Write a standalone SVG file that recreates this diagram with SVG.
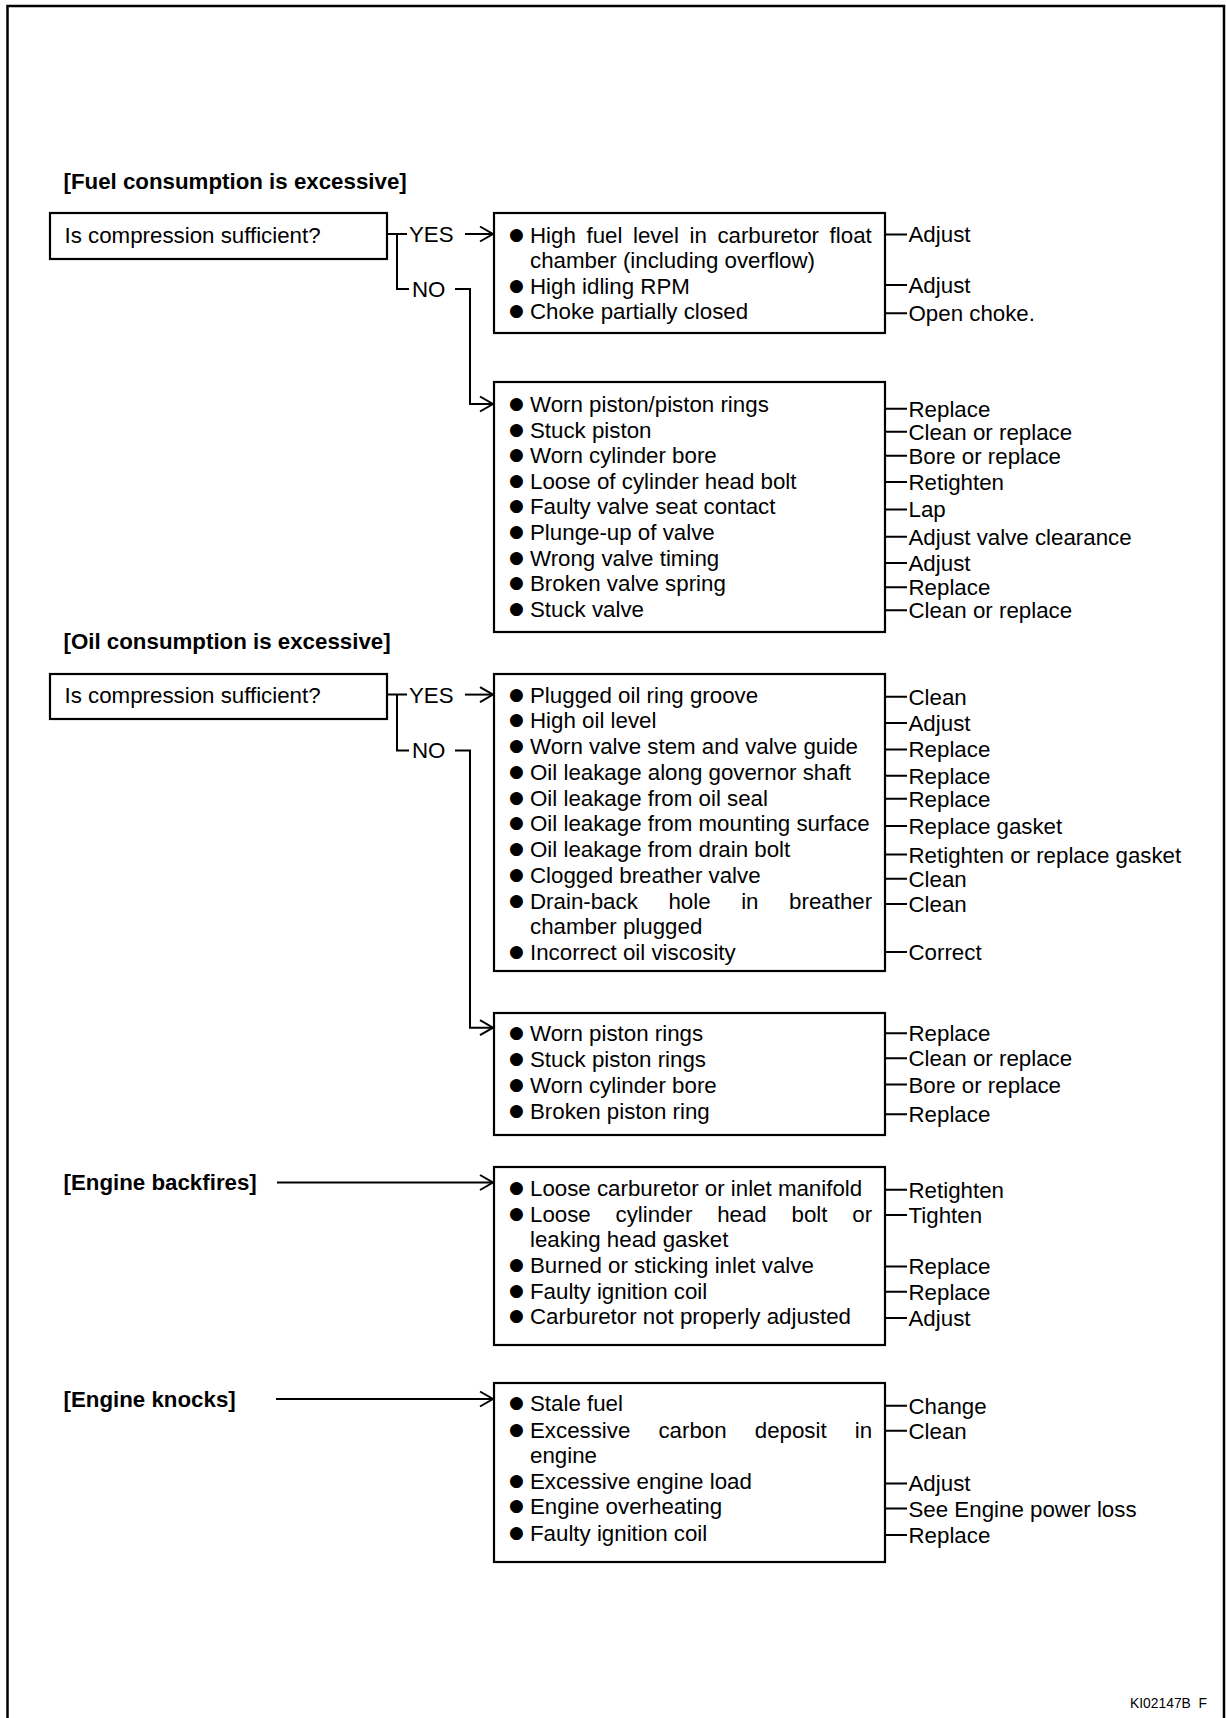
<svg xmlns="http://www.w3.org/2000/svg" width="1226" height="1718" viewBox="0 0 1226 1718">
<style>
text{font-family:"Liberation Sans",Arial,sans-serif;fill:#000}
.t{font-size:22.3px}
.h{font-size:22.3px;font-weight:bold}
.bu{font-family:"DejaVu Sans",sans-serif;font-size:17px;baseline-shift:3px}
.box{fill:#fff;stroke:#000;stroke-width:2.2}
.ln{fill:none;stroke:#000;stroke-width:2}
.fr{fill:none;stroke:#000;stroke-width:2.5}
</style>
<defs>
<marker id="ah" markerUnits="userSpaceOnUse" markerWidth="20" markerHeight="20" refX="15" refY="10" orient="auto">
<path d="M2,2.5 L15,10 L2,17.5" fill="none" stroke="#000" stroke-width="2"/>
</marker>
</defs>
<rect width="1226" height="1718" fill="#fff"/>
<path class="fr" d="M7.5,1718 V6 H1224 V1718"/>

<!-- Section 1 -->
<text class="h" x="63.5" y="189">[Fuel consumption is excessive]</text>
<g id="q1"><rect class="box" x="50" y="213" width="337" height="46"/><text class="t" x="64.5" y="242.5">Is compression sufficient?</text></g>
<g id="fuel-yes">
<rect class="box" x="494" y="213" width="391" height="120"/>
<text class="t"><tspan class="bu" x="509" y="242.5">●</tspan><tspan x="530" y="242.5" word-spacing="4.4">High fuel level in carburetor float</tspan><tspan x="530" y="268">chamber (including overflow)</tspan><tspan class="bu" x="509" y="293.5">●</tspan><tspan x="530" y="293.5">High idling RPM</tspan><tspan class="bu" x="509" y="319">●</tspan><tspan x="530" y="319">Choke partially closed</tspan></text>
<text class="t"><tspan x="908.5" y="242.4">Adjust</tspan><tspan x="908.5" y="292.9">Adjust</tspan><tspan x="908.5" y="321.2">Open choke.</tspan></text>
</g>
<g id="fuel-no">
<rect class="box" x="494" y="382" width="391" height="250"/>
<text class="t"><tspan class="bu" x="509" y="412">●</tspan><tspan x="530" y="412">Worn piston/piston rings</tspan><tspan class="bu" x="509" y="437.6">●</tspan><tspan x="530" y="437.6">Stuck piston</tspan><tspan class="bu" x="509" y="463.2">●</tspan><tspan x="530" y="463.2">Worn cylinder bore</tspan><tspan class="bu" x="509" y="488.8">●</tspan><tspan x="530" y="488.8">Loose of cylinder head bolt</tspan><tspan class="bu" x="509" y="514.4">●</tspan><tspan x="530" y="514.4">Faulty valve seat contact</tspan><tspan class="bu" x="509" y="540">●</tspan><tspan x="530" y="540">Plunge-up of valve</tspan><tspan class="bu" x="509" y="565.6">●</tspan><tspan x="530" y="565.6">Wrong valve timing</tspan><tspan class="bu" x="509" y="591.2">●</tspan><tspan x="530" y="591.2">Broken valve spring</tspan><tspan class="bu" x="509" y="616.8">●</tspan><tspan x="530" y="616.8">Stuck valve</tspan></text>
<text class="t"><tspan x="908.5" y="416.6">Replace</tspan><tspan x="908.5" y="439.6">Clean or replace</tspan><tspan x="908.5" y="463.7">Bore or replace</tspan><tspan x="908.5" y="489.9">Retighten</tspan><tspan x="908.5" y="517.4">Lap</tspan><tspan x="908.5" y="544.7">Adjust valve clearance</tspan><tspan x="908.5" y="571">Adjust</tspan><tspan x="908.5" y="595.1">Replace</tspan><tspan x="908.5" y="618.1">Clean or replace</tspan></text>
</g>

<!-- Section 2 -->
<text class="h" x="63.5" y="649">[Oil consumption is excessive]</text>
<g id="q2"><rect class="box" x="50" y="674" width="337" height="45"/><text class="t" x="64.5" y="702.5">Is compression sufficient?</text></g>
<g id="oil-yes">
<rect class="box" x="494" y="674" width="391" height="297"/>
<text class="t"><tspan class="bu" x="509" y="702.5">●</tspan><tspan x="530" y="702.5">Plugged oil ring groove</tspan><tspan class="bu" x="509" y="728.2">●</tspan><tspan x="530" y="728.2">High oil level</tspan><tspan class="bu" x="509" y="754">●</tspan><tspan x="530" y="754">Worn valve stem and valve guide</tspan><tspan class="bu" x="509" y="779.7">●</tspan><tspan x="530" y="779.7">Oil leakage along governor shaft</tspan><tspan class="bu" x="509" y="805.5">●</tspan><tspan x="530" y="805.5">Oil leakage from oil seal</tspan><tspan class="bu" x="509" y="831.2">●</tspan><tspan x="530" y="831.2">Oil leakage from mounting surface</tspan><tspan class="bu" x="509" y="857">●</tspan><tspan x="530" y="857">Oil leakage from drain bolt</tspan><tspan class="bu" x="509" y="882.7">●</tspan><tspan x="530" y="882.7">Clogged breather valve</tspan><tspan class="bu" x="509" y="908.5">●</tspan><tspan x="530" y="908.5" word-spacing="24.4">Drain-back hole in breather</tspan><tspan x="530" y="934.2">chamber plugged</tspan><tspan class="bu" x="509" y="960">●</tspan><tspan x="530" y="960">Incorrect oil viscosity</tspan></text>
<text class="t"><tspan x="908.5" y="704.7">Clean</tspan><tspan x="908.5" y="731">Adjust</tspan><tspan x="908.5" y="757.3">Replace</tspan><tspan x="908.5" y="783.6">Replace</tspan><tspan x="908.5" y="806.6">Replace</tspan><tspan x="908.5" y="834">Replace gasket</tspan><tspan x="908.5" y="862.5">Retighten or replace gasket</tspan><tspan x="908.5" y="886.6">Clean</tspan><tspan x="908.5" y="911.8">Clean</tspan><tspan x="908.5" y="960">Correct</tspan></text>
</g>
<g id="oil-no">
<rect class="box" x="494" y="1013" width="391" height="122"/>
<text class="t"><tspan class="bu" x="509" y="1041.1">●</tspan><tspan x="530" y="1041.1">Worn piston rings</tspan><tspan class="bu" x="509" y="1067.3">●</tspan><tspan x="530" y="1067.3">Stuck piston rings</tspan><tspan class="bu" x="509" y="1092.5">●</tspan><tspan x="530" y="1092.5">Worn cylinder bore</tspan><tspan class="bu" x="509" y="1118.8">●</tspan><tspan x="530" y="1118.8">Broken piston ring</tspan></text>
<text class="t"><tspan x="908.5" y="1041.1">Replace</tspan><tspan x="908.5" y="1066.2">Clean or replace</tspan><tspan x="908.5" y="1092.5">Bore or replace</tspan><tspan x="908.5" y="1122.1">Replace</tspan></text>
</g>

<!-- Section 3 -->
<g id="backfires-title"><text class="h" x="63.5" y="1190">[Engine backfires]</text></g>
<g id="backfires">
<rect class="box" x="494" y="1167" width="391" height="178"/>
<text class="t"><tspan class="bu" x="509" y="1195.5">●</tspan><tspan x="530" y="1195.5">Loose carburetor or inlet manifold</tspan><tspan class="bu" x="509" y="1221.8">●</tspan><tspan x="530" y="1221.8" word-spacing="18.6">Loose cylinder head bolt or</tspan><tspan x="530" y="1247">leaking head gasket</tspan><tspan class="bu" x="509" y="1273.3">●</tspan><tspan x="530" y="1273.3">Burned or sticking inlet valve</tspan><tspan class="bu" x="509" y="1298.5">●</tspan><tspan x="530" y="1298.5">Faulty ignition coil</tspan><tspan class="bu" x="509" y="1323.7">●</tspan><tspan x="530" y="1323.7">Carburetor not properly adjusted</tspan></text>
<text class="t"><tspan x="908.5" y="1197.7">Retighten</tspan><tspan x="908.5" y="1222.9">Tighten</tspan><tspan x="908.5" y="1274.4">Replace</tspan><tspan x="908.5" y="1299.6">Replace</tspan><tspan x="908.5" y="1325.9">Adjust</tspan></text>
</g>

<!-- Section 4 -->
<g id="knocks-title"><text class="h" x="63.5" y="1407">[Engine knocks]</text></g>
<g id="knocks">
<rect class="box" x="494" y="1383" width="391" height="179"/>
<text class="t"><tspan class="bu" x="509" y="1411.4">●</tspan><tspan x="530" y="1411.4">Stale fuel</tspan><tspan class="bu" x="509" y="1437.7">●</tspan><tspan x="530" y="1437.7" word-spacing="21.9">Excessive carbon deposit in</tspan><tspan x="530" y="1462.9">engine</tspan><tspan class="bu" x="509" y="1489.2">●</tspan><tspan x="530" y="1489.2">Excessive engine load</tspan><tspan class="bu" x="509" y="1514.4">●</tspan><tspan x="530" y="1514.4">Engine overheating</tspan><tspan class="bu" x="509" y="1540.7">●</tspan><tspan x="530" y="1540.7">Faulty ignition coil</tspan></text>
<text class="t"><tspan x="908.5" y="1413.6">Change</tspan><tspan x="908.5" y="1438.7">Clean</tspan><tspan x="908.5" y="1491.3">Adjust</tspan><tspan x="908.5" y="1516.5">See Engine power loss</tspan><tspan x="908.5" y="1542.8">Replace</tspan></text>
</g>

<g id="connectors">
<!-- fuel -->
<path class="ln" d="M387,234 H407 M397,234 V289 H409"/>
<text class="t" x="409" y="242">YES</text>
<text class="t" x="412" y="297">NO</text>
<path class="ln" d="M465,234 H493" marker-end="url(#ah)"/>
<path class="ln" d="M455,289 H470 V404 H493" marker-end="url(#ah)"/>
<!-- oil -->
<path class="ln" d="M387,694.6 H407 M397,694.6 V750.5 H409"/>
<text class="t" x="409" y="702.5">YES</text>
<text class="t" x="412" y="758.4">NO</text>
<path class="ln" d="M465,694.6 H493" marker-end="url(#ah)"/>
<path class="ln" d="M455,750.5 H470 V1027.7 H493" marker-end="url(#ah)"/>
<!-- backfires / knocks -->
<path class="ln" d="M277,1182.5 H493" marker-end="url(#ah)"/>
<path class="ln" d="M276,1399 H493" marker-end="url(#ah)"/>
<!-- leaders -->
<path class="ln" d="M885,234.5 H907 M885,285 H907 M885,313.3 H907
M885,408.7 H907 M885,431.7 H907 M885,455.8 H907 M885,482 H907 M885,509.5 H907 M885,536.8 H907 M885,563.1 H907 M885,587.2 H907 M885,610.2 H907
M885,696.8 H907 M885,723.1 H907 M885,749.4 H907 M885,775.7 H907 M885,798.7 H907 M885,826.1 H907 M885,854.6 H907 M885,878.7 H907 M885,903.9 H907 M885,952.1 H907
M885,1033.2 H907 M885,1058.3 H907 M885,1084.6 H907 M885,1114.2 H907
M885,1189.8 H907 M885,1215 H907 M885,1266.5 H907 M885,1291.7 H907 M885,1318 H907
M885,1405.7 H907 M885,1430.8 H907 M885,1483.4 H907 M885,1508.6 H907 M885,1534.9 H907"/>
</g>

<text x="1130" y="1708" font-size="14" textLength="77" lengthAdjust="spacingAndGlyphs" xml:space="preserve">KI02147B  F</text>
</svg>
